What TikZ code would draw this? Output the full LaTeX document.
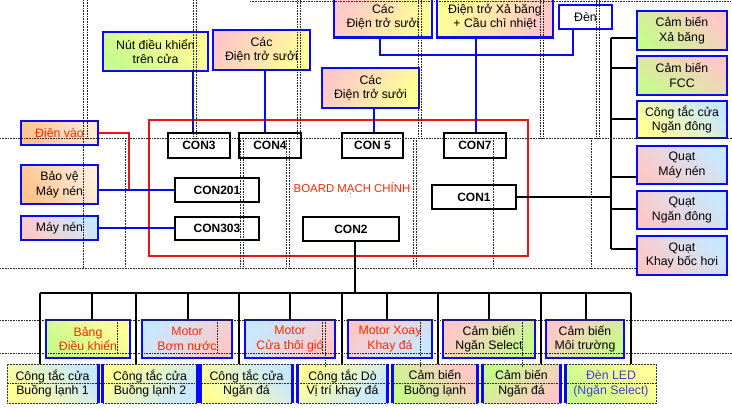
\documentclass[tikz,border=0pt]{standalone}
\usepackage{fontspec}
\setmainfont{Liberation Sans}
\definecolor{pk}{RGB}{255,200,200}
\definecolor{yl}{RGB}{255,255,150}
\definecolor{gr}{RGB}{200,250,140}
\definecolor{lb}{RGB}{200,232,255}
\definecolor{pe}{RGB}{255,196,140}
\definecolor{bl}{RGB}{10,10,240}
\definecolor{rd}{RGB}{235,20,20}
\definecolor{tr}{RGB}{255,40,0}
\definecolor{tv}{RGB}{70,60,210}
\begin{document}
\begin{tikzpicture}[x=1pt,y=-1pt,
  every node/.style={font=\fontsize{12.3}{14.5}\selectfont, align=center, inner sep=0pt},
  box/.style={draw=bl, line width=2.6pt},
  mbox/.style={draw=bl, line width=2.4pt},
  cbox/.style={draw=black!80, densely dotted, line width=0.5pt},
  con/.style={draw=black, line width=1.7pt, fill=white, font=\fontsize{12}{14}\selectfont\bfseries},
  bw/.style={draw=bl, line width=1.8pt},
  bedge/.style={draw=bl, line width=2.6pt},
  rw/.style={draw=rd, line width=1.8pt},
  bk/.style={draw=black, line width=2pt},
  grid/.style={densely dotted, line width=0.6pt, black!85},
  sh/.style n args={3}{shade, shading=axis, top color=#1, bottom color=#2, shading angle=#3},
]
\useasboundingbox (0,0) rectangle (732,408);
\fill[white] (0,0) rectangle (732,408);

% ---- top boxes
\node[box, sh={yl}{gr}{-45}, minimum width=105pt, minimum height=39pt] (nut) at (155.5,51.5) {Nút điều khiển\\trên cửa};
\node[box, sh={pk}{yl}{60}, minimum width=97pt, minimum height=40pt] (dtb) at (261.5,50) {Các\\Điện trở sưởi};
\node[box, sh={pk}{yl}{60}, minimum width=98pt, minimum height=41pt] (dta) at (383,17) {Các\\Điện trở sưởi};
\node[box, sh={yl}{pk}{60}, minimum width=116pt, minimum height=41pt] (xa) at (495,17) {Điện trở Xả băng\\+ Cầu chì nhiệt};
\node[box, fill=white, minimum width=53pt, minimum height=24pt] (den) at (585.5,17) {Đèn};
\node[box, sh={pk}{yl}{60}, minimum width=97pt, minimum height=40pt] (dtc) at (370.5,88) {Các\\Điện trở sưởi};

% ---- board
\node[draw=rd, line width=2pt, minimum width=379pt, minimum height=136pt] (board) at (338.5,188) {};
\node[text=tr, font=\fontsize{11.4}{13}\selectfont] (blabel) at (352,188) {BOARD MẠCH CHÍNH};

\node[con, minimum width=62pt, minimum height=25pt] (con3) at (199,145.5) {CON3};
\node[con, minimum width=62pt, minimum height=25pt] (con4) at (270,145.5) {CON4};
\node[con, minimum width=61pt, minimum height=25pt] (con5) at (372.5,145.5) {CON 5};
\node[con, minimum width=62pt, minimum height=25pt] (con7) at (475,145.5) {CON7};
\node[con, minimum width=84pt, minimum height=24pt] (con201) at (217,190) {CON201};
\node[con, minimum width=84pt, minimum height=23pt] (con303) at (217,228.5) {CON303};
\node[con, minimum width=84pt, minimum height=24pt] (con1) at (474,197) {CON1};
\node[con, minimum width=96pt, minimum height=24pt] (con2) at (351,229) {CON2};

% ---- left boxes
\node[box, sh={pe!35}{pe}{-60}, minimum width=77pt, minimum height=24pt, text=tr] (dien) at (59.5,133) {Điên vào};
\node[box, sh={pe!30}{pe}{-60}, minimum width=77pt, minimum height=39pt] (bao) at (59.5,184.5) {Bảo vệ\\Máy nén};
\node[box, sh={lb}{pk}{-45}, minimum width=77pt, minimum height=24pt] (may) at (59.5,228) {Máy nén};

% ---- right column
\node[box, sh={pk}{gr}{-45}, minimum width=90pt, minimum height=39pt] (r1) at (682,30.5) {Cảm biến\\Xả băng};
\node[box, sh={pk}{gr}{-30}, minimum width=90pt, minimum height=39pt] (r2) at (682,75.5) {Cảm biến\\FCC};
\node[box, sh={lb}{yl}{-45}, minimum width=90pt, minimum height=37pt] (r3) at (682,119.5) {Công tắc cửa\\Ngăn đông};
\node[box, sh={lb}{pk}{-45}, minimum width=90pt, minimum height=38pt] (r4) at (682,165) {Quạt\\Máy nén};
\node[box, sh={lb}{pk}{-45}, minimum width=90pt, minimum height=38pt] (r5) at (682,210) {Quạt\\Ngăn đông};
\node[box, sh={lb}{pk}{-45}, minimum width=90pt, minimum height=39pt] (r6) at (682,255.5) {Quạt\\Khay bốc hơi};

% ---- middle row
\node[mbox, sh={yl}{gr}{-45}, minimum width=84pt, minimum height=38pt, text=tr] (m1) at (88,339) {Bảng\\Điều khiển};
\node[mbox, sh={lb}{pk}{45}, minimum width=90pt, minimum height=38pt, text=tr] (m2) at (187,339) {Motor\\Bơm nước};
\node[mbox, sh={lb}{pk}{45}, minimum width=90pt, minimum height=38pt, text=tr] (m3) at (290,339) {Motor\\Cửa thôi gió};
\node[mbox, sh={pk}{lb}{45}, minimum width=84pt, minimum height=38pt, text=tr] (m4) at (390,339) {Motor Xoay\\Khay đá};
\node[mbox, sh={pk}{gr}{45}, minimum width=92pt, minimum height=38pt] (m5) at (489,339) {Cảm biến\\Ngăn Select};
\node[mbox, sh={pk}{gr}{45}, minimum width=78pt, minimum height=38pt] (m6) at (585,339) {Cảm biến\\Môi trường};

% ---- bottom row
\node[cbox, sh={lb}{yl}{-45}, minimum width=91pt, minimum height=39pt] (b1) at (52.5,383.5) {Công tắc cửa\\Buồng lạnh 1};
\node[cbox, sh={yl}{lb}{45}, minimum width=94pt, minimum height=39pt] (b2) at (150,383.5) {Công tắc cửa\\Buồng lạnh 2};
\node[cbox, sh={lb}{yl}{-45}, minimum width=91pt, minimum height=39pt] (b3) at (246.5,383.5) {Công tắc cửa\\Ngăn đá};
\node[cbox, sh={yl}{lb}{45}, minimum width=89pt, minimum height=39pt] (b4) at (342.5,383.5) {Công tắc Dò\\Vị trí khay đá};
\node[cbox, sh={pk}{gr}{-45}, minimum width=84pt, minimum height=39pt] (b5) at (435,383.5) {Cảm biến\\Buồng lạnh};
\node[cbox, sh={gr}{pk}{45}, minimum width=77pt, minimum height=39pt] (b6) at (521.5,383.5) {Cảm biến\\Ngăn đá};
\node[cbox, sh={yl}{gr}{-45}, minimum width=90pt, minimum height=39pt, text=tv] (b7) at (611,383.5) {Đèn LED\\(Ngăn Select)};

\draw[bedge] (b1.north east) -- (b1.south east);
\foreach \n in {b2,b3,b4,b5,b6} {
  \draw[bedge] (\n.north west) -- (\n.south west);
  \draw[bedge] (\n.north east) -- (\n.south east);
}
\draw[bedge] (b7.north west) -- (b7.south west);

% ---- connectors top
\coordinate (x3) at (193,0);
\coordinate (x4) at (265,0);
\coordinate (x5) at (374,0);
\coordinate (x7) at (476,0);
\coordinate (jl) at (380,55);
\coordinate (jr) at (573,55);
\draw[bw] (nut.south -| x3) -- (con3.north -| x3);
\draw[bw] (dtb.south -| x4) -- (con4.north -| x4);
\draw[bw] (dtc.south -| x5) -- (con5.north -| x5);
\draw[bw] (xa.south -| x7) -- (con7.north -| x7);
\draw[bw] (dta.south -| jl) -- (jl) -- (jr) -- (den.south -| jr);

% ---- connectors left
\coordinate (rj) at (129,190);
\draw[rw] (dien.east) -| (rj);
\draw[bw] (con201.west -| bao.east) -- (con201.west);
\draw[bw] (may.east) -- (may.east -| con303.west);

% ---- right bus
\coordinate (s1) at (611,38);
\coordinate (s2) at (611,68);
\coordinate (s3) at (611,119);
\coordinate (s4) at (611,177);
\coordinate (s5) at (611,209);
\coordinate (s6) at (611,249);
\draw[bk] (s1) -- (s6);
\draw[bk] (s1) -- (s1 -| r1.west);
\draw[bk] (s2) -- (s2 -| r2.west);
\draw[bk] (s3) -- (s3 -| r3.west);
\draw[bk] (s4) -- (s4 -| r4.west);
\draw[bk] (s5) -- (s5 -| r5.west);
\draw[bk] (s6) -- (s6 -| r6.west);
\draw[bk] (con1.east) -- (con1.east -| s1);

% ---- bottom bus
\coordinate (c2) at (355,0);
\coordinate (busL) at (40,293);
\coordinate (busR) at (631,293);
\draw[bk] (con2.south -| c2) -- (c2 |- busL);
\draw[bk, line width=2.4pt] (busL) -- (busR);
\foreach \x/\n in {40/b1,136/b2,239/b3,342/b4,438/b5,540.5/b6,631/b7}
  \draw[bk] (\x,293) -- (\n.north -| \x,0);
\foreach \x/\n in {92/m1,188/m2,290/m3,387/m4,489/m5,586/m6}
  \draw[bk] (\x,293) -- (\n.north -| \x,0);

% ---- dotted page-break lines
\draw[grid] (0,138) -- (732,138);
\draw[grid] (0,268) -- (636,268);
\draw[grid] (0,320) -- (732,320);
\draw[grid] (0,353) -- (732,353);
\draw[grid] (250,1) -- (732,1);
\draw[grid] (b1.west) -- (b7.east);
\draw[grid] (83,0) -- (83,268);
\foreach \x in {87,193,196,297,300,418,421,540,543,596,599}
  \draw[grid] (\x,0) -- (\x,138);
\foreach \x in {125,240,243,286,289,413,416,493,591}
  \draw[grid] (\x,138) -- (\x,268);
\foreach \x in {117,217,322}
  \draw[grid] (\x,320) -- (\x,353);
\foreach \x in {325,420,522}
  \draw[grid] (\x,320) -- (\x,367);
\end{tikzpicture}
\end{document}
